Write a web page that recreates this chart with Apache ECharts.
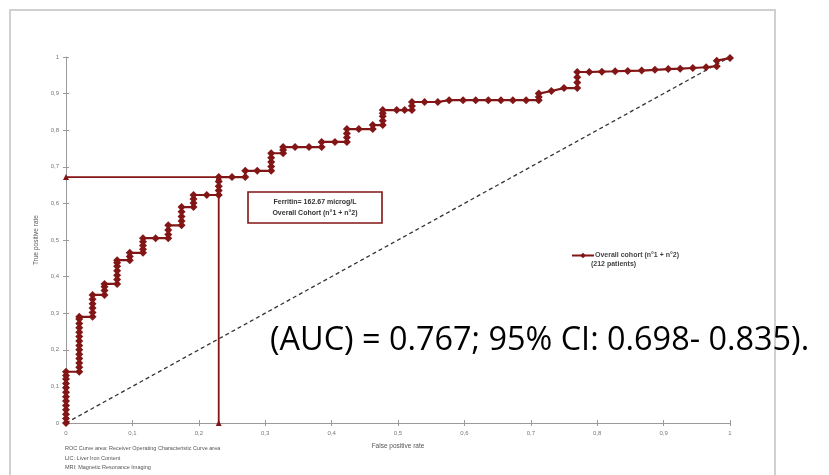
<!DOCTYPE html>
<html>
<head>
<meta charset="utf-8">
<script src="https://cdn.jsdelivr.net/npm/echarts@6/dist/echarts.min.js"></script>
<style>
  html, body { margin: 0; padding: 0; background: #fff; }
  #chart { width: 829px; height: 475px; }
</style>
</head>
<body>
<div id="chart"></div>
<script>
// ROC curve of ferritin, overall cohort: false positive rate vs true positive rate
const fpr = [
  0, 0, 0, 0, 0, 0, 0, 0, 0, 0, 0, 0, 0,
  0.02, 0.02, 0.02, 0.02, 0.02, 0.02, 0.02, 0.02, 0.02, 0.02, 0.02, 0.02, 0.02, 0.02,
  0.04, 0.04, 0.04, 0.04, 0.04, 0.04,
  0.058, 0.058, 0.058, 0.058,
  0.077, 0.077, 0.077, 0.077, 0.077, 0.077, 0.077,
  0.096, 0.096, 0.096,
  0.116, 0.116, 0.116, 0.116, 0.116,
  0.135, 0.154, 0.154, 0.154, 0.154,
  0.174, 0.174, 0.174, 0.174, 0.174,
  0.192, 0.192, 0.192, 0.192,
  0.212, 0.23, 0.23, 0.23, 0.23, 0.23,
  0.25, 0.27, 0.27,
  0.288, 0.309, 0.309, 0.309, 0.309, 0.309,
  0.327, 0.327, 0.327,
  0.345, 0.366, 0.385, 0.385,
  0.405, 0.423, 0.423, 0.423, 0.423,
  0.441, 0.462, 0.462,
  0.477, 0.477, 0.477, 0.477, 0.477,
  0.498, 0.51, 0.521, 0.521, 0.521,
  0.54, 0.56, 0.577, 0.598, 0.617, 0.636, 0.655, 0.673, 0.693, 0.712, 0.712, 0.712,
  0.731, 0.75, 0.77, 0.77, 0.77, 0.77,
  0.788, 0.807, 0.827, 0.846, 0.867, 0.887, 0.907, 0.925, 0.944, 0.964, 0.98, 0.98, 1
];
const tpr = [
  0, 0.012, 0.024, 0.036, 0.048, 0.06, 0.072, 0.084, 0.096, 0.108, 0.12, 0.13, 0.14,
  0.14, 0.152, 0.164, 0.176, 0.188, 0.2, 0.212, 0.224, 0.236, 0.248, 0.26, 0.272, 0.284, 0.29,
  0.29, 0.302, 0.314, 0.326, 0.338, 0.35,
  0.35, 0.362, 0.372, 0.38,
  0.38, 0.392, 0.404, 0.416, 0.428, 0.438, 0.445,
  0.445, 0.455, 0.465,
  0.465, 0.475, 0.485, 0.495, 0.505,
  0.505, 0.505, 0.515, 0.527, 0.54,
  0.54, 0.552, 0.564, 0.577, 0.59,
  0.59, 0.601, 0.612, 0.623,
  0.623, 0.623, 0.635, 0.647, 0.66, 0.672,
  0.672, 0.672, 0.689,
  0.689, 0.689, 0.701, 0.713, 0.725, 0.737,
  0.737, 0.746, 0.754,
  0.754, 0.754, 0.754, 0.768,
  0.768, 0.768, 0.78, 0.791, 0.803,
  0.803, 0.803, 0.814,
  0.814, 0.826, 0.838, 0.846, 0.855,
  0.855, 0.855, 0.855, 0.866, 0.877,
  0.877, 0.877, 0.882, 0.882, 0.882, 0.882, 0.882, 0.882, 0.882, 0.882, 0.891, 0.9,
  0.907, 0.915, 0.915, 0.93, 0.945, 0.959,
  0.959, 0.96, 0.961, 0.962, 0.963, 0.965, 0.967, 0.968, 0.97, 0.972, 0.975, 0.99, 0.997
];

// Reference diagonal (random classifier)
const chanceX = [0, 1];
const chanceY = [0, 1];

// Optimal cut-off: ferritin = 162.67 microg/L
const cutoffFpr = 0.23;
const cutoffTpr = 0.672;

const seriesName = 'Overall cohort (n°1 + n°2)';
const seriesNote = '(212 patients)';
const cutoffLines = ['Ferritin= 162.67 microg/L', 'Overall Cohort (n°1 + n°2)'];
const aucText = '(AUC) = 0.767; 95% CI: 0.698- 0.835).';
const footnotes = [
  'ROC Curve area: Receiver Operating Characteristic Curve area',
  'LIC: Liver Iron Content',
  'MRI: Magnetic Resonance Imaging'
];

const RED = '#821515';
const commaFmt = v => String(+v.toFixed(1)).replace('.', ',');

const rocData = fpr.map((x, i) => [x, tpr[i]]);
const chanceData = chanceX.map((x, i) => [x, chanceY[i]]);

const chart = echarts.init(document.getElementById('chart'), null, { renderer: 'canvas' });

const baseAxis = {
  type: 'value', min: 0, max: 1, interval: 0.1,
  splitLine: { show: false },
  axisLine: { show: true, lineStyle: { color: '#9a9a9a', width: 1 } },
  axisTick: { show: true, length: 3, lineStyle: { color: '#9a9a9a' } },
  axisLabel: { fontSize: 6, color: '#777', fontFamily: 'Liberation Sans', formatter: commaFmt }
};
const innerTicks = {
  type: 'value', min: 0, max: 1, interval: 0.1,
  splitLine: { show: false },
  axisLine: { show: false },
  axisTick: { show: true, inside: true, length: 3, lineStyle: { color: '#9a9a9a' } },
  axisLabel: { show: false }
};

chart.setOption({
  animation: false,
  backgroundColor: '#fff',
  grid: { left: 66, top: 57, right: 99, bottom: 52 },
  xAxis: [
    Object.assign({}, baseAxis, {
      position: 'bottom',
      name: 'False positive rate', nameLocation: 'middle', nameGap: 20,
      nameTextStyle: { fontSize: 6.5, color: '#555', fontFamily: 'Liberation Sans' },
      axisLabel: Object.assign({}, baseAxis.axisLabel, { margin: 7 })
    }),
    Object.assign({}, innerTicks, { position: 'bottom' })
  ],
  yAxis: [
    Object.assign({}, baseAxis, {
      position: 'left',
      name: 'True positive rate', nameLocation: 'middle', nameGap: 26,
      nameTextStyle: { fontSize: 6.5, color: '#555', fontFamily: 'Liberation Sans' },
      axisLabel: Object.assign({}, baseAxis.axisLabel, { margin: 7 })
    }),
    Object.assign({}, innerTicks, { position: 'left' })
  ],
  legend: {
    left: 566, top: 247,
    itemWidth: 22, itemHeight: 7, itemGap: 0,
    data: [seriesName],
    textStyle: { fontSize: 7, fontWeight: 'bold', color: '#444', fontFamily: 'Liberation Sans', padding: [0, 0, 0, -4] }
  },
  series: [
    {
      type: 'line', name: 'chance', data: chanceData,
      symbol: 'none', silent: true, z: 1,
      lineStyle: { color: '#333', width: 1.3, type: [4, 3] }
    },
    {
      type: 'line', name: 'cutoff',
      data: [[0, cutoffTpr], [cutoffFpr, cutoffTpr], [cutoffFpr, 0]],
      symbol: 'triangle', symbolSize: 6, z: 2,
      itemStyle: { color: RED },
      lineStyle: { color: RED, width: 1.8 }
    },
    {
      type: 'line', name: seriesName, data: rocData,
      symbol: 'diamond', symbolSize: 8, z: 3,
      itemStyle: { color: RED },
      lineStyle: { color: RED, width: 2.2 }
    }
  ],
  graphic: [
    // page frame
    {
      type: 'rect', silent: true, z: -1,
      shape: { x: 10, y: 10, width: 765, height: 480 },
      style: { fill: 'none', stroke: '#d0d0d0', lineWidth: 2 }
    },
    // cut-off annotation box
    {
      type: 'rect',
      shape: { x: 248, y: 192, width: 134, height: 31 },
      style: { fill: '#fff', stroke: RED, lineWidth: 1.6 }
    },
    {
      type: 'text', x: 315, y: 202,
      style: { text: cutoffLines[0], fill: '#333', font: 'bold 7px "Liberation Sans"', textAlign: 'center', textVerticalAlign: 'middle' }
    },
    {
      type: 'text', x: 315, y: 213,
      style: { text: cutoffLines[1], fill: '#333', font: 'bold 7px "Liberation Sans"', textAlign: 'center', textVerticalAlign: 'middle' }
    },
    // second legend line
    {
      type: 'text', x: 591, y: 264,
      style: { text: seriesNote, fill: '#444', font: 'bold 7px "Liberation Sans"', textVerticalAlign: 'middle' }
    },
    // AUC statement
    {
      type: 'text', x: 270, y: 341,
      style: { text: aucText, fill: '#000', font: '32.4px "Open Sans"', textVerticalAlign: 'middle' }
    },
    // footnotes
    {
      type: 'text', x: 65, y: 448,
      style: { text: footnotes[0], fill: '#555', font: '5.5px "Liberation Sans"', textVerticalAlign: 'middle' }
    },
    {
      type: 'text', x: 65, y: 458,
      style: { text: footnotes[1], fill: '#555', font: '5.5px "Liberation Sans"', textVerticalAlign: 'middle' }
    },
    {
      type: 'text', x: 65, y: 467,
      style: { text: footnotes[2], fill: '#555', font: '5.5px "Liberation Sans"', textVerticalAlign: 'middle' }
    }
  ]
});
</script>
</body>
</html>
